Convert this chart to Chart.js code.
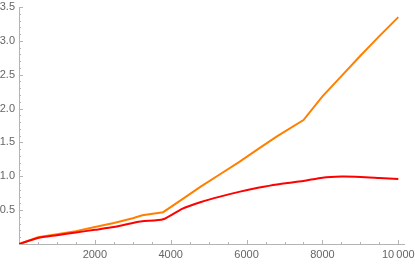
<!DOCTYPE html>
<html>
<head>
<meta charset="utf-8">
<script src="https://cdn.jsdelivr.net/npm/chart.js@4"></script>
<style>
  html, body { margin: 0; padding: 0; background: #fff; }
  #wrap { width: 415px; height: 264px; }
</style>
</head>
<body>
<div id="wrap"><canvas id="plot"></canvas></div>
<script>
// sample positions and the two curves
const xValues = [0, 500, 1000, 1500, 2000, 2500, 3000, 3250, 3800, 4300, 4800, 5300, 5800, 6300, 6800, 7500, 8000, 8500, 9000, 9500, 10000];
const orangeValues = [0, 0.10, 0.145, 0.19, 0.25, 0.31, 0.38, 0.425, 0.47, 0.66, 0.85, 1.03, 1.21, 1.40, 1.59, 1.83, 2.18, 2.48, 2.78, 3.07, 3.35];
const redValues = [0, 0.09, 0.13, 0.17, 0.21, 0.25, 0.31, 0.335, 0.365, 0.52, 0.62, 0.70, 0.77, 0.83, 0.88, 0.93, 0.98, 0.995, 0.99, 0.975, 0.96];

const xTicks = [2000, 4000, 6000, 8000, 10000];
const yTicks = [0.5, 1.0, 1.5, 2.0, 2.5, 3.0, 3.5];

const axisColor = '#b4b4b4';
const labelColor = '#666666';

// Mathematica style ticks pointing into the plot
const tickMarks = {
    id: 'tickMarks',
    afterDraw(chart) {
        const ctx = chart.ctx;
        const xs = chart.scales.x, ys = chart.scales.y;
        ctx.save();
        ctx.strokeStyle = axisColor;
        ctx.lineWidth = 1;
        ctx.beginPath();
        for (let v = 500; v <= 10000; v += 500) {
            const px = Math.round(xs.getPixelForValue(v)) + 0.5;
            const len = v % 2000 === 0 ? 4 : 2;
            ctx.moveTo(px, ys.bottom);
            ctx.lineTo(px, ys.bottom - len);
        }
        for (let i = 1; i <= 35; i++) {
            const py = Math.round(ys.getPixelForValue(i / 10)) + 0.5;
            const len = i % 5 === 0 ? 4 : 2;
            ctx.moveTo(xs.left, py);
            ctx.lineTo(xs.left + len, py);
        }
        ctx.stroke();
        ctx.restore();
    }
};

new Chart(document.getElementById('plot').getContext('2d'), {
    type: 'line',
    data: {
        datasets: [{
            label: 'red',
            data: xValues.map((x, i) => ({ x: x, y: redValues[i] })),
            borderColor: '#ff0000',
            borderWidth: 2,
            pointRadius: 0,
            tension: 0.2
        }, {
            label: 'orange',
            data: xValues.map((x, i) => ({ x: x, y: orangeValues[i] })),
            borderColor: '#ff8000',
            borderWidth: 2,
            pointRadius: 0,
            tension: 0
        }]
    },
    options: {
        responsive: true,
        maintainAspectRatio: false,
        animation: false,
        layout: { padding: { top: 7, right: 11, left: 0, bottom: 0 } },
        scales: {
            x: {
                type: 'linear',
                min: 0,
                max: 10150,
                afterBuildTicks: s => { s.ticks = xTicks.map(v => ({ value: v })); },
                afterFit: s => { s.height = 20; s.paddingLeft = 0; s.paddingRight = 0; },
                grid: { display: false, drawTicks: false },
                border: { display: true, color: axisColor, width: 1 },
                ticks: {
                    padding: 4,
                    color: labelColor,
                    font: { family: 'Liberation Sans, Arial, sans-serif', size: 11 },
                    maxRotation: 0,
                    callback: v => v === 10000 ? '10\u2009000' : String(v)
                }
            },
            y: {
                min: 0,
                max: 3.5,
                afterBuildTicks: s => { s.ticks = yTicks.map(v => ({ value: v })); },
                afterFit: s => { s.width = 19; s.paddingTop = 0; s.paddingBottom = 0; },
                grid: { display: false, drawTicks: false },
                border: { display: true, color: axisColor, width: 1 },
                ticks: {
                    padding: 4,
                    color: labelColor,
                    font: { family: 'Liberation Sans, Arial, sans-serif', size: 11 },
                    callback: v => v.toFixed(1)
                }
            }
        },
        plugins: {
            legend: { display: false },
            tooltip: { enabled: false }
        }
    },
    plugins: [tickMarks]
});
</script>
</body>
</html>
